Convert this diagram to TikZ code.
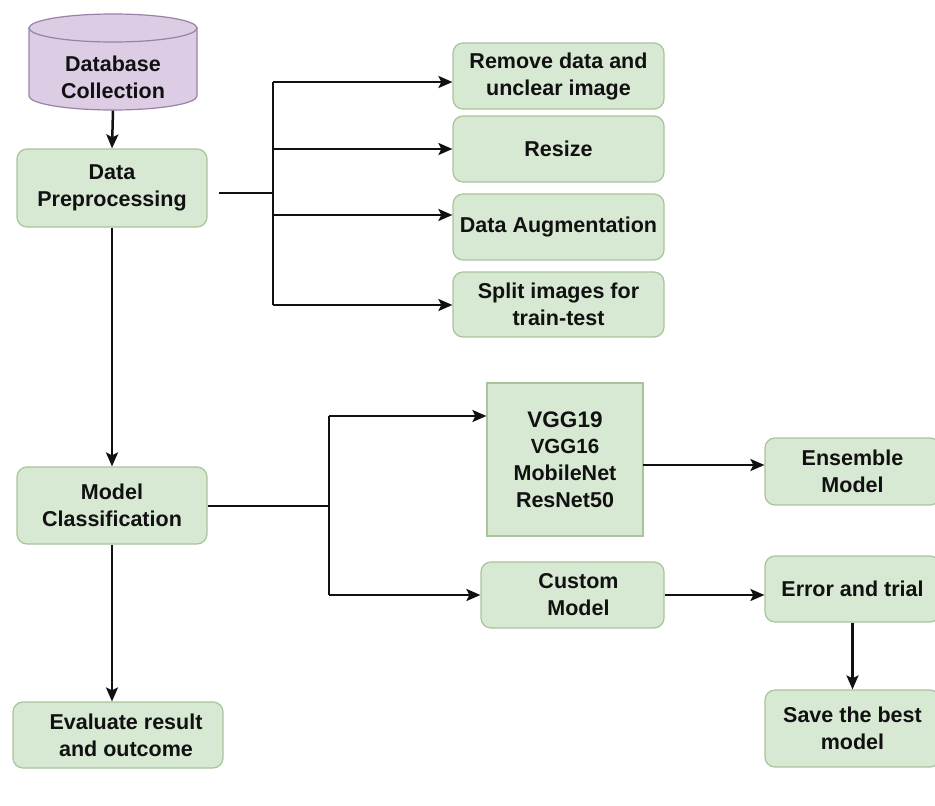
\documentclass[tikz,border=0pt]{standalone}
\usepackage{fontspec}
\setmainfont{Liberation Sans}
\usetikzlibrary{arrows.meta,calc}
\definecolor{boxfill}{HTML}{D7E8D3}
\definecolor{boxline}{HTML}{A9C49B}
\definecolor{dbfill}{HTML}{DCCDE5}
\definecolor{dbline}{HTML}{9883A8}
\definecolor{ink}{HTML}{111111}

\begin{document}
\begin{tikzpicture}[x=1pt,y=-1pt,
  every node/.style={font=\fontsize{21.5}{27}\selectfont\bfseries, text=ink, align=center, inner sep=0pt},
  proc/.style={draw=boxline, fill=boxfill, line width=1.2pt, rounded corners=10pt},
  sq/.style={draw=boxline, fill=boxfill, line width=1.2pt},
  link/.style={draw=ink, line width=2.5pt},
  arr/.style={link, -{Stealth[length=14pt,width=12pt,inset=3pt]}}
]
\useasboundingbox (0,0) rectangle (935,806);
\fill[white] (0,0) rectangle (935,806);
\clip (0,0) rectangle (935,806);

% database cylinder
\node[minimum width=168pt, minimum height=97pt] (db) at (113,62) {};
\draw[fill=dbfill, draw=dbline, line width=1.2pt]
  (29,28) -- (29,96) .. controls (29,103.7) and (66.6,110) .. (113,110)
  .. controls (159.4,110) and (197,103.7) .. (197,96) -- (197,28) -- cycle;
\draw[fill=dbfill, draw=dbline, line width=1.2pt] (113,28) ellipse [x radius=84, y radius=14];
\node (dbtext) at (113,77) {Database\\Collection};

% left column
\node[proc, minimum width=190pt, minimum height=78pt] (dp) at (112,188) {Data\\Preprocessing};
\node[proc, minimum width=190pt, minimum height=77pt] (mc) at (112,505.5) {Model\\Classification};
\node[proc, minimum width=210pt, minimum height=66pt] (ev) at (118,735) {};
\node (evtext) at ($(ev)+(8,0)$) {Evaluate result\\and outcome};

% preprocessing steps
\node[proc, minimum width=211pt, minimum height=66pt] (r1) at (558.5,76) {Remove data and\\unclear image};
\node[proc, minimum width=211pt, minimum height=66pt] (r2) at (558.5,149) {Resize};
\node[proc, minimum width=211pt, minimum height=66pt] (r3) at (558.5,227) {Data Augmentation};
\node[proc, minimum width=211pt, minimum height=65pt] (r4) at (558.5,304.5) {Split images for\\train-test};

% classification branch
\node[sq, minimum width=156pt, minimum height=153pt] (vgg) at (565,459.5)
  {{\fontsize{22.5}{24}\selectfont VGG19}\\[-1pt]\fontsize{20.5}{23}\selectfont VGG16\\MobileNet\\ResNet50};
\node[proc, minimum width=183pt, minimum height=66pt] (cm) at (572.5,595) {};
\node (cmtext) at ($(cm)+(6,0)$) {Custom\\Model};
\node[proc, minimum width=175pt, minimum height=67pt] (en) at (852.5,471.5) {Ensemble\\Model};
\node[proc, minimum width=175pt, minimum height=66pt] (et) at (852.5,589) {Error and trial};
\node[proc, minimum width=175pt, minimum height=77pt] (sb) at (852.5,728.5) {Save the best\\model};

% connectors
\draw[arr] (db.south) -- (dp.north);
\draw[arr] (dp.south) -- (mc.north);
\draw[arr] (mc.south) -- (mc.south |- ev.north);

\coordinate (pj) at (273,193);
\coordinate (p1) at (273,82);
\coordinate (p3) at (273,215);
\coordinate (p4) at (273,305);
\draw[link, shorten <=11pt] (dp.east |- pj) -- (pj);
\draw[link] (p1) -- (p4);
\draw[arr] (p1) -- (p1 -| r1.west);
\draw[arr] (r2.west -| pj) -- (r2.west);
\draw[arr] (p3) -- (p3 -| r3.west);
\draw[arr] (p4) -- (p4 -| r4.west);

\coordinate (mj) at (329,506);
\coordinate (m1) at (329,416);
\coordinate (m2) at (329,595);
\draw[link] (mc.east |- mj) -- (mj);
\draw[link] (m1) -- (m2);
\draw[arr] (m1) -- (m1 -| vgg.west);
\draw[arr] (m2) -- (m2 -| cm.west);

\coordinate (vo) at (643,465);
\draw[arr] (vo) -- (vo -| en.west);
\draw[arr] (cm.east |- m2) -- (m2 -| et.west);
\draw[arr] (et.south) -- (sb.north);
\end{tikzpicture}
\end{document}
